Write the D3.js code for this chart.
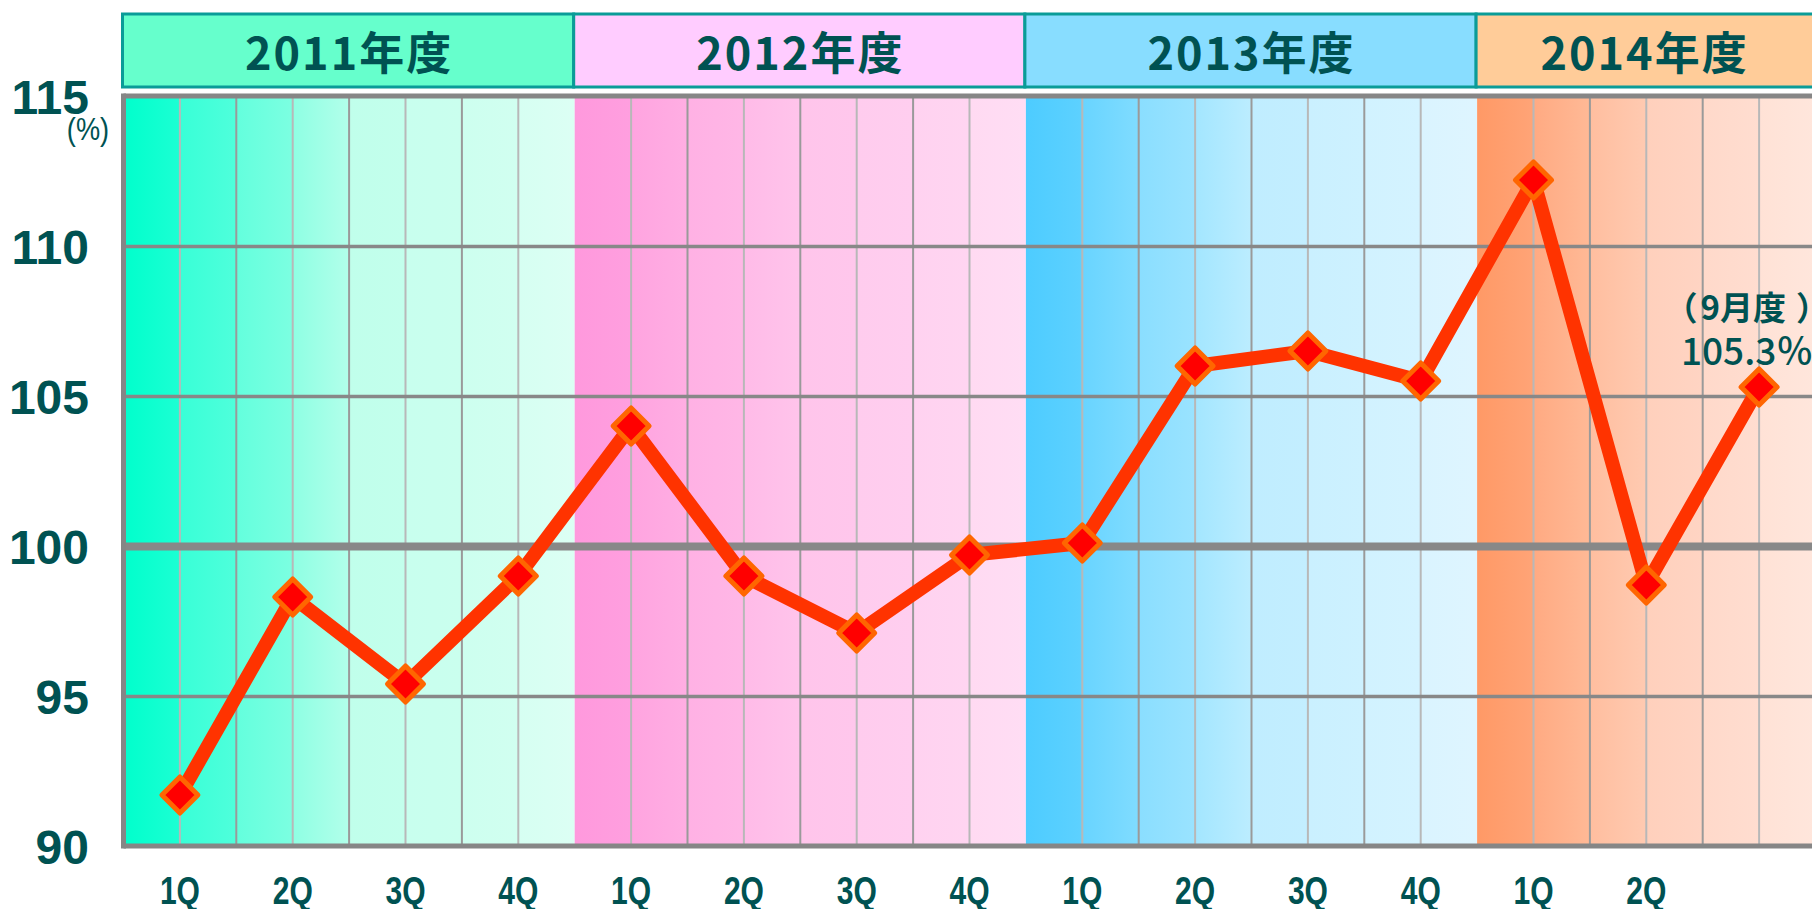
<!DOCTYPE html>
<html>
<head>
<meta charset="utf-8">
<script src="https://cdn.jsdelivr.net/npm/d3@7"></script>
<style>
  body { margin: 0; background: #fff; }
  svg { display: block; }
</style>
</head>
<body>
<svg id="chart" width="1812" height="909"></svg>
<script>
// data
const years = ['2011年度', '2012年度', '2013年度', '2014年度']
const quarters = ['1Q', '2Q', '3Q', '4Q']
const yTicks = [90, 95, 100, 105, 110, 115]
// one value per period, last one is the September figure of 2014
const periods = ['2011-1Q', '2011-2Q', '2011-3Q', '2011-4Q',
                 '2012-1Q', '2012-2Q', '2012-3Q', '2012-4Q',
                 '2013-1Q', '2013-2Q', '2013-3Q', '2013-4Q',
                 '2014-1Q', '2014-2Q', '2014-3Q']
const values = [91.7, 98.3, 95.4, 99.0,
                104.0, 99.0, 97.1, 99.7,
                100.1, 106.0, 106.5, 105.5,
                112.2, 98.7, 105.3]
// periods that get no label under the axis
const unlabeled = ['2014-3Q', '2014-4Q']
const noteMonth = ['（', '9月度', '）']
const noteValue = '105.3％'

// column shading, [start, end] of every half-quarter strip
const yearColors = [
    [['#00FFCC', '#1CFFD3'], ['#38FFD7', '#4FFFDB'], ['#63FFDD', '#7CFFE1'], ['#8EFFE3', '#B2FFEA'],
     ['#C0FFEB', '#C3FFEC'], ['#C8FFEE', '#CAFFEE'], ['#CDFFEF', '#D1FFF0'], ['#D6FFF2', '#DCFFF4']],
    [['#FF99DD', '#FF9FDF'], ['#FFA4E0', '#FFAEE3'], ['#FFB1E4', '#FFB7E6'], ['#FFBBE8', '#FFC4EB'],
     ['#FFC5EB', '#FFC7EC'], ['#FFCCEE', '#FFCEEF'], ['#FFD2F0', '#FFD5F1'], ['#FFDAF2', '#FFDDF4']],
    [['#4DCCFF', '#5DD1FF'], ['#68D4FF', '#80DCFF'], ['#8ADEFF', '#9AE3FF'], ['#A3E6FF', '#BCEDFF'],
     ['#C0EDFF', '#C3EEFF'], ['#CAF0FF', '#CDF1FF'], ['#D1F2FF', '#D4F3FF'], ['#DAF4FF', '#DEF5FF']],
    [['#FF9966', '#FFA477'], ['#FFAA82', '#FFB996'], ['#FFBE9F', '#FFCAB1'], ['#FFD0BC', '#FFD4C3'],
     ['#FFD9CA', '#FFDDD0'], ['#FFE2D6', '#FFE6DC'], ['#FFEAE2', '#FFEEE8'], ['#FFF1EC', '#FFF4F0']]
]
const headerFill = ['#66FFCC', '#FFCCFF', '#88DDFF', '#FFCC99']

const ink = '#005252'
const svg = d3.select('#chart')
const width = +svg.attr('width')
const height = +svg.attr('height')

const margin = { top: 96, left: 123.5, bottom: 63 }
const quarterWidth = 112.8
const slots = years.flatMap(y => quarters.map(q => y.slice(0, 4) + '-' + q))

const xScale = d3.scaleBand()
    .domain(slots)
    .range([margin.left, margin.left + slots.length * quarterWidth])

const yScale = d3.scaleLinear()
    .domain([90, 115])
    .range([height - margin.bottom, margin.top])

const yearWidth = quarterWidth * 4
const yearX = i => xScale(slots[i * 4])

// backgrounds
const defs = svg.append('defs')
yearColors.forEach((cols, i) => {
    const grad = defs.append('linearGradient')
        .attr('id', 'yr' + i)
        .attr('x1', 0).attr('x2', 1).attr('y1', 0).attr('y2', 0)
    cols.forEach((c, k) => {
        grad.append('stop').attr('offset', k / 8).attr('stop-color', c[0])
        grad.append('stop').attr('offset', (k + 1) / 8).attr('stop-color', c[1])
    })
})

svg.append('g').selectAll('rect')
    .data(years)
    .enter()
    .append('rect')
    .attr('x', (d, i) => yearX(i))
    .attr('y', yScale(115))
    .attr('width', yearWidth)
    .attr('height', yScale(90) - yScale(115))
    .attr('fill', (d, i) => `url(#yr${i})`)

// vertical strip lines
const strips = []
slots.forEach((s, i) => {
    if (i % 4 !== 0) strips.push({ x: xScale(s), major: true })
    strips.push({ x: xScale(s) + xScale.bandwidth() / 2, major: false })
})
svg.append('g').selectAll('line')
    .data(strips)
    .enter()
    .append('line')
    .attr('x1', d => d.x).attr('x2', d => d.x)
    .attr('y1', yScale(115)).attr('y2', yScale(90))
    .attr('stroke', d => d.major ? '#9a9a9a' : '#b8b8b8')
    .attr('stroke-width', 2)

// horizontal grid
const gridG = svg.append('g')
    .call(d3.axisLeft(yScale).tickValues([95, 100, 105, 110]).tickSize(-2000).tickFormat(''))
    .attr('transform', `translate(${margin.left},0)`)
gridG.select('.domain').remove()
gridG.selectAll('.tick line')
    .attr('stroke', '#888')
    .attr('stroke-width', d => d === 100 ? 8 : 3.5)

// plot frame: left, top, bottom
const frame = svg.append('g').attr('stroke', '#868686').attr('stroke-width', 5)
frame.append('line')
    .attr('x1', margin.left).attr('x2', margin.left)
    .attr('y1', yScale(115) - 2.5).attr('y2', yScale(90) + 2.5)
frame.append('line')
    .attr('x1', margin.left).attr('x2', width)
    .attr('y1', yScale(115)).attr('y2', yScale(115))
frame.append('line')
    .attr('x1', margin.left).attr('x2', width)
    .attr('y1', yScale(90)).attr('y2', yScale(90))

// y labels
const yAxisG = svg.append('g')
    .call(d3.axisLeft(yScale).tickValues(yTicks).tickSize(0).tickPadding(0))
    .attr('transform', 'translate(89,0)')
yAxisG.select('.domain').remove()
yAxisG.selectAll('text')
    .attr('font-family', '"Liberation Sans", Arial, sans-serif')
    .attr('font-weight', 'bold')
    .attr('font-size', 48)
    .attr('fill', ink)
    .attr('dy', '0.36em')

svg.append('text')
    .attr('x', 88)
    .attr('y', 140)
    .attr('text-anchor', 'middle')
    .attr('font-family', '"Liberation Sans", Arial, sans-serif')
    .attr('font-size', 32)
    .attr('fill', ink)
    .attr('transform', 'translate(88,0) scale(0.85,1) translate(-88,0)')
    .text('(%)')

// x labels
const xAxisG = svg.append('g')
    .call(d3.axisBottom(xScale).tickSize(0).tickFormat(d => unlabeled.includes(d) ? '' : d.slice(5)))
    .attr('transform', `translate(0,${yScale(90) + 27})`)
xAxisG.select('.domain').remove()
xAxisG.selectAll('.tick text')
    .attr('font-family', '"Liberation Sans", Arial, sans-serif')
    .attr('font-weight', 'bold')
    .attr('font-size', 39)
    .attr('fill', ink)
    .attr('dy', '0.71em')
    .attr('transform', 'scale(0.77,1)')

// line + markers
const points = periods.map((p, i) => ({ period: p, value: values[i] }))
const px = d => xScale(d.period) + xScale.bandwidth() / 2

const lineGenerator = d3.line()
    .x(px)
    .y(d => yScale(d.value))

svg.append('path')
    .attr('d', lineGenerator(points))
    .attr('fill', 'none')
    .attr('stroke', '#FF3300')
    .attr('stroke-width', 14)
    .attr('stroke-linejoin', 'round')

svg.append('g').selectAll('path')
    .data(points)
    .enter()
    .append('path')
    .attr('d', 'M0,-18L18,0L0,18L-18,0Z')
    .attr('transform', d => `translate(${px(d)},${yScale(d.value)})`)
    .attr('fill', '#FF0000')
    .attr('stroke', '#FF6600')
    .attr('stroke-width', 5)
    .attr('stroke-linejoin', 'round')

// note on the last point
const last = points[points.length - 1]
const noteG = svg.append('g')
    .attr('font-family', '"Noto Sans CJK JP", sans-serif')
    .attr('fill', ink)
const monthText = noteG.append('text')
    .attr('x', px(last) + 70)
    .attr('y', yScale(last.value) - 67)
    .attr('text-anchor', 'end')
    .attr('font-weight', 700)
    .attr('font-size', 33)
monthText.selectAll('tspan')
    .data(noteMonth)
    .enter()
    .append('tspan')
    .attr('dx', (d, i) => [0, 3, 10][i])
    .text(d => d)
noteG.append('text')
    .attr('x', px(last) - 12)
    .attr('y', yScale(last.value) - 22)
    .attr('text-anchor', 'middle')
    .attr('font-weight', 500)
    .attr('font-size', 37)
    .text(noteValue)

// year headers; the text sits in the middle of the visible part of the box
const head = svg.append('g').selectAll('g')
    .data(years)
    .enter()
    .append('g')
head.append('rect')
    .attr('x', (d, i) => yearX(i) - 1)
    .attr('y', 14)
    .attr('width', yearWidth)
    .attr('height', 73)
    .attr('fill', (d, i) => headerFill[i])
    .attr('stroke', '#0a9c98')
    .attr('stroke-width', 3)
head.append('text')
    .attr('x', (d, i) => (yearX(i) + Math.min(yearX(i) + yearWidth, width)) / 2)
    .attr('y', 70)
    .attr('text-anchor', 'middle')
    .attr('font-family', '"Noto Sans CJK JP", sans-serif')
    .attr('font-weight', 700)
    .attr('font-size', 45)
    .attr('letter-spacing', 2)
    .attr('fill', ink)
    .text(d => d)
</script>
</body>
</html>
